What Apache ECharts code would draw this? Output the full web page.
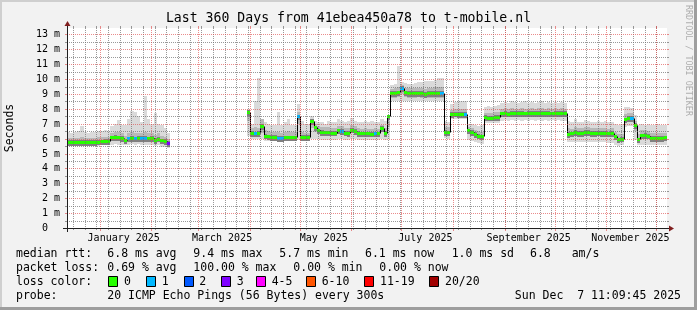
<!DOCTYPE html>
<html><head><meta charset="utf-8">
<script src="https://cdn.jsdelivr.net/npm/echarts@6/dist/echarts.min.js"></script>
<style>html,body{margin:0;padding:0;background:#f2f2f2}#c{width:697px;height:310px}</style>
</head><body><div id="c"></div>
<script>
// ---------- data ----------
const TITLE = 'Last 360 Days from 41ebea450a78 to t-mobile.nl';
const DAYS = 360;            // x range in days since start of graph
const STEP_DAYS = 2;         // one sample = 2 days
const Y_MAX = 13.43;         // ms
const yTickValues = [0,1,2,3,4,5,6,7,8,9,10,11,12,13];
const yTickLabels = ['0  ',' 1 m',' 2 m',' 3 m',' 4 m',' 5 m',' 6 m',' 7 m',' 8 m',' 9 m','10 m','11 m','12 m','13 m'];
// month starts (days since graph start, Dec 12 2024 11:09:45)
const monthStartDays = [19.535,50.535,78.535,109.535,139.535,170.535,200.535,231.535,262.535,292.535,323.535,353.535];
const monthLabels = ['January 2025','March 2025','May 2025','July 2025','September 2025','November 2025'];
const monthLabelDays = [34.03,93.03,154.03,215.03,277.03,338.03];
const firstWeekDay = 3.535, weekDays = 7;

// segment 1 starts at sample 0, segment 2 at sample 54
const seg1Start = 0, seg2Start = 54;
const med1 = [5.78,5.78,5.78,5.77,5.78,5.78,5.78,5.77,5.78,5.80, 5.82,5.84,5.85,6.08,6.10,6.08,6.05,5.88,6.02,6.04, 6.02,6.03,6.04,6.03,6.02,6.03,5.90,6.00,5.88,5.84, 5.71];
const loss1 = [0,0,0,0,0,0,0,0,0,0, 0,0,0,0,0,0,0,0,1,0, 1,0,1,1,0,0,0,0,0,0, 3];
const lo1 = [5.50,5.52,5.50,5.50,5.52,5.50,5.50,5.52,5.50,5.52, 5.55,5.55,5.55,5.60,5.62,5.60,5.58,5.55,5.60,5.62, 5.60,5.62,5.60,5.60,5.58,5.60,5.50,5.55,5.45,5.45, 5.40];
const q1_1 = [5.55,5.56,5.55,5.55,5.56,5.55,5.55,5.56,5.55,5.57, 5.60,5.62,5.62,5.82,5.84,5.82,5.80,5.65,5.78,5.80, 5.78,5.78,5.80,5.78,5.76,5.78,5.66,5.75,5.62,5.58, 5.48];
const q3_1 = [6.05,6.05,6.06,6.05,6.12,6.05,6.05,6.05,6.06,6.08, 6.10,6.12,6.14,6.40,6.45,6.45,6.38,6.20,6.38,6.45, 6.40,6.38,6.36,6.45,6.38,6.36,6.25,6.35,6.20,6.12, 5.95];
const hi1 = [6.45,6.40,6.45,6.50,6.85,6.45,6.40,6.45,6.45,6.50, 6.50,6.55,6.50,6.85,7.00,7.25,6.90,6.90,7.30,7.85, 7.80,7.50,7.10,8.85,7.30,7.00,7.70,7.00,6.95,6.70, 6.40];

const med2 = [7.80,6.38,6.35,6.38,6.85,6.20,
 6.15,6.12,6.10,6.05,6.05,6.08,6.08,6.08,6.08,7.50,
 6.10,6.10,6.10,7.20,6.75,6.55,6.45,6.42,6.42,6.40,
 6.40,6.55,6.50,6.40,6.38,6.60,6.50,6.38,6.35,6.35,
 6.35,6.33,6.35,6.35,6.70,6.38,7.50,9.05,9.05,9.10,
 9.40,9.10,9.05,9.05,9.05,9.08,9.05,8.98,9.05,9.05,
 9.05,9.05,9.05,6.45,6.42,7.65,7.68,7.67,7.67,7.65,
 6.55,6.45,6.30,6.20,6.15,7.45,7.42,7.42,7.45,7.45,
 7.70,7.72,7.68,7.72,7.72,7.72,7.72,7.70,7.72,7.72,
 7.72,7.72,7.72,7.72,7.72,7.70,7.72,7.72,7.72,7.72,
 6.30,6.35,6.45,6.38,6.38,6.45,6.45,6.38,6.38,6.40,
 6.38,6.38,6.35,6.38,6.15,5.95,6.00,7.30,7.38,7.40,
 6.90,5.95,6.22,6.25,6.20,6.05,6.05,6.05,6.05,6.08];
const loss2 = [0,0,1,0,0,0,
 0,0,0,1,1,0,0,0,0,1,
 0,0,0,0,0,0,0,0,0,0,
 0,0,1,0,0,0,0,0,0,0,
 0,0,1,0,0,0,0,0,0,0,
 1,0,0,0,0,0,0,0,0,0,
 0,0,1,0,0,0,0,0,0,1,
 0,0,0,0,0,0,0,0,0,0,
 0,0,0,0,0,0,0,0,0,0,
 0,0,0,0,0,0,0,0,0,0,
 0,0,0,0,0,0,0,0,0,0,
 0,0,0,0,0,0,0,0,0,1,
 0,0,0,0,0,0,0,0,0,0];
const lo2 = [6.20,5.95,5.95,5.95,5.95,5.85,
 5.85,5.82,5.82,5.80,5.80,5.82,5.85,5.82,5.85,5.90,
 5.90,5.88,5.88,6.00,6.00,5.95,5.92,5.90,5.90,5.90,
 5.92,5.95,5.95,5.92,5.90,5.95,5.95,5.92,5.90,5.90,
 5.90,5.88,5.90,5.90,5.95,5.90,6.00,8.55,8.55,8.55,
 8.55,8.55,8.52,8.55,8.55,8.55,8.52,8.50,8.55,8.55,
 8.55,8.55,8.50,6.05,6.00,7.30,7.30,7.30,7.32,7.30,
 5.90,5.85,5.75,5.70,5.65,7.05,7.05,7.05,7.05,7.05,
 7.20,7.22,7.20,7.22,7.20,7.22,7.20,7.22,7.20,7.22,
 7.20,7.22,7.20,7.22,7.20,7.22,7.20,7.22,7.20,7.20,
 5.80,5.75,5.80,5.78,5.75,5.80,5.78,5.75,5.78,5.75,
 5.78,5.75,5.72,5.72,5.60,5.50,5.55,6.80,6.85,6.85,
 5.90,5.55,5.60,5.60,5.58,5.55,5.55,5.58,5.55,5.55];
const q1_2 = [7.20,6.12,6.10,6.12,6.40,5.96,
 5.92,5.90,5.88,5.84,5.84,5.86,5.86,5.86,5.86,7.00,
 5.90,5.88,5.88,6.70,6.45,6.30,6.20,6.18,6.18,6.16,
 6.16,6.30,6.26,6.16,6.14,6.35,6.26,6.14,6.12,6.12,
 6.12,6.10,6.12,6.12,6.45,6.14,6.80,8.75,8.75,8.80,
 9.00,8.80,8.75,8.75,8.75,8.78,8.75,8.70,8.75,8.75,
 8.75,8.75,8.75,6.20,6.18,7.42,7.44,7.44,7.44,7.42,
 6.30,6.20,6.05,5.95,5.90,7.22,7.20,7.20,7.22,7.22,
 7.46,7.48,7.45,7.48,7.48,7.48,7.48,7.46,7.48,7.48,
 7.48,7.48,7.48,7.48,7.48,7.46,7.48,7.48,7.48,7.48,
 6.05,6.10,6.20,6.14,6.14,6.20,6.20,6.14,6.14,6.16,
 6.14,6.14,6.10,6.14,5.90,5.72,5.76,7.05,7.12,7.14,
 6.50,5.72,5.98,6.00,5.96,5.82,5.82,5.82,5.82,5.84];
const q3_2 = [7.95,6.70,6.75,6.70,7.30,6.55,
 6.50,6.45,6.42,6.45,6.40,6.45,6.48,6.42,6.42,7.80,
 6.45,6.40,6.40,7.35,7.00,6.85,6.78,6.75,6.78,6.72,
 6.72,6.85,6.82,6.72,6.70,6.92,6.82,6.70,6.68,6.70,
 6.68,6.66,6.70,6.68,6.95,6.72,7.20,9.35,9.38,9.45,
 9.60,9.42,9.38,9.38,9.40,9.42,9.40,9.35,9.42,9.42,
 9.45,9.48,9.45,6.80,6.78,7.95,8.00,8.00,8.00,7.98,
 6.75,6.70,6.58,6.48,6.45,7.75,7.72,7.72,7.78,7.78,
 8.00,8.05,8.00,8.05,8.02,8.00,8.05,8.02,8.00,8.05,
 8.02,8.05,8.05,8.00,8.05,8.00,8.05,8.02,8.05,8.00,
 6.70,6.68,6.78,6.70,6.70,6.78,6.75,6.70,6.70,6.72,
 6.70,6.72,6.68,6.70,6.45,6.30,6.32,7.65,7.70,7.72,
 7.20,6.30,6.55,6.58,6.52,6.38,6.38,6.40,6.38,6.40];
const hi2 = [8.00,7.00,8.50,10.10,7.30,7.10,
 7.00,6.90,6.90,7.80,6.90,7.10,7.30,6.90,6.95,8.30,
 7.20,7.00,7.00,7.50,7.20,7.15,7.10,7.00,7.20,7.10,
 7.15,7.30,7.20,7.10,7.20,7.40,7.20,7.10,7.15,7.20,
 7.10,7.20,7.15,7.10,7.30,7.20,7.60,9.60,9.65,10.85,
 9.80,9.75,9.70,9.70,9.75,9.80,9.80,9.85,9.90,9.90,
 9.95,10.10,10.05,7.20,7.15,8.30,8.45,8.50,8.50,8.50,
 7.00,7.00,6.90,6.85,6.90,8.15,8.20,8.15,8.20,8.25,
 8.40,8.45,8.40,8.50,8.45,8.40,8.45,8.50,8.40,8.45,
 8.40,8.45,8.50,8.40,8.45,8.40,8.45,8.40,8.45,8.40,
 7.20,7.15,7.30,7.10,7.15,7.25,7.20,7.10,7.15,7.20,
 7.15,7.20,7.10,7.15,7.00,6.95,7.00,8.10,8.15,8.05,
 7.60,6.90,7.00,6.95,7.00,6.90,6.95,7.00,6.90,6.95];

const lossColors = ['#26ff00','#00b8ff','#0059ff','#7e00ff','#ff00ff','#ff5500','#ff0000','#a10000'];
const lossLabels = ['0','1','2','3','4-5','6-10','11-19','20/20'];

// ---------- build rows ----------
function rows(start, med, loss, lo, q1, q3, hi) {
  return med.map((m, k) => [(start + k) * STEP_DAYS, (start + k + 1) * STEP_DAYS,
    lo[k], q1[k], q3[k], hi[k], m, loss[k], k > 0 ? 1 : 0, k > 0 ? med[k - 1] : m]);
}
const data = rows(seg1Start, med1, loss1, lo1, q1_1, q3_1, hi1)
  .concat(rows(seg2Start, med2, loss2, lo2, q1_2, q3_2, hi2));

const MONO = '"DejaVu Sans Mono", monospace';
const GRID = 'rgba(110,110,110,0.7)';
const MGRID = 'rgba(222,79,79,0.65)';

function px(api, d) { return Math.round(api.coord([d, 0])[0]); }
function py(api, v) { return Math.round(api.coord([0, v])[1]); }

function smokeItem(params, api) {
  const xa = px(api, api.value(0)), xb = px(api, api.value(1));
  const m = api.value(6);
  const band = (a, b, fill) => {
    const y1 = py(api, b), y2 = py(api, a);
    return { type: 'rect', shape: { x: xa, y: y1, width: xb - xa, height: Math.max(1, y2 - y1) }, style: { fill } };
  };
  return { type: 'group', children: [
    band(api.value(2), api.value(5), '#dadada'),
    band(api.value(3), api.value(4), '#b8b8b8'),
    band(m - 0.25, m + 0.12, '#808080')
  ] };
}
function blackItem(params, api) {
  if (!api.value(8)) return null;
  const xa = px(api, api.value(0));
  const y = py(api, api.value(6));
  const yp = py(api, api.value(9));
  return { type: 'line', shape: { x1: xa + 0.5, y1: yp + 0.5, x2: xa + 0.5, y2: y + 0.5 }, style: { stroke: '#000', lineWidth: 1 } };
}
function colorItem(params, api) {
  const xa = px(api, api.value(0)), xb = px(api, api.value(1));
  const y = py(api, api.value(6));
  return { type: 'rect', shape: { x: xa, y: y - 1, width: xb - xa, height: 3 }, style: { fill: lossColors[api.value(7)] } };
}
function frameItem(params, api) {
  const c = [];
  const X0 = px(api, 0), X1 = px(api, DAYS), Y0 = py(api, 0), Y1 = py(api, Y_MAX);
  const ln = (x1, y1, x2, y2, stroke, dash) => ({ type: 'line', shape: { x1, y1, x2, y2 }, style: { stroke, lineWidth: 1, lineDash: dash || null } });
  // vertical grid (weeks, months)
  for (let d = firstWeekDay; d < DAYS; d += weekDays) {
    const x = px(api, d) + 0.5;
    c.push(ln(x, Y1 - 2, x, Y1, GRID), ln(x, Y1, x, Y0, GRID, [1, 1]), ln(x, Y0, x, Y0 + 2, GRID));
  }
  // horizontal grid
  for (let k = 0; k < yTickValues.length; k++) {
    const v = yTickValues[k];
    if (v + 0.5 < Y_MAX) {
      const ym = py(api, v + 0.5) + 0.5;
      c.push(ln(X0 - 2, ym, X0, ym, GRID), ln(X0, ym, X1, ym, GRID, [1, 1]), ln(X1, ym, X1 + 2, ym, GRID));
    }
    const y = py(api, v) + 0.5;
    if (v > 0) c.push(ln(X0 - 2, y, X0, y, MGRID), ln(X0, y, X1, y, MGRID, [1, 1]), ln(X1, y, X1 + 2, y, MGRID));
    c.push({ type: 'text', x: X0 - 7, y: y, style: { text: yTickLabels[k], font: '10px ' + MONO, fill: '#000', align: 'right', verticalAlign: 'middle', textAlign: 'right', textVerticalAlign: 'middle' } });
  }
  for (const d of monthStartDays) {
    const x = px(api, d) + 0.5;
    c.push(ln(x, Y1 - 2, x, Y1, MGRID), ln(x, Y1, x, Y0, MGRID, [1, 1]), ln(x, Y0, x, Y0 + 3, MGRID));
  }
  monthLabels.forEach((t, k) => {
    c.push({ type: 'text', x: api.coord([monthLabelDays[k], 0])[0], y: Y0 + 10, style: { text: t, font: '10px ' + MONO, fill: '#000', align: 'center', verticalAlign: 'middle', textAlign: 'center', textVerticalAlign: 'middle' } });
  });
  // axes
  c.push(ln(X0 - 4, Y0 + 0.5, X1 + 4, Y0 + 0.5, '#1f1f1f'));
  c.push(ln(X0 + 0.5, Y0 + 4, X0 + 0.5, Y1 - 4, '#1f1f1f'));
  c.push({ type: 'polygon', shape: { points: [[X1 + 2, Y0 - 2.5], [X1 + 2, Y0 + 3.5], [X1 + 7, Y0 + 0.5]] }, style: { fill: '#801f1f' } });
  c.push({ type: 'polygon', shape: { points: [[X0 - 2.5, Y1 - 2], [X0 + 3.5, Y1 - 2], [X0 + 0.5, Y1 - 7]] }, style: { fill: '#801f1f' } });
  return { type: 'group', children: c };
}

// ---------- legend / texts ----------
const F = '11.5px ' + MONO;
function txt(x, y, s, opts) {
  return Object.assign({ type: 'text', x, y, silent: true, style: { text: s, font: F, fill: '#000', align: 'left', verticalAlign: 'middle', textAlign: 'left', textVerticalAlign: 'middle' } }, opts || {});
}
const legendRows = [
  [254.3, [[16, 'median rtt:'], [107.3, '6.8 ms avg'], [193.3, '9.4 ms max'], [279.3, '5.7 ms min'], [365, '6.1 ms now'], [451.7, '1.0 ms sd'], [530, '6.8'], [571.7, 'am/s']]],
  [268.3, [[16, 'packet loss:'], [107.3, '0.69 % avg'], [193.3, '100.00 % max'], [293.3, '0.00 % min'], [379.3, '0.00 % now']]],
  [282.3, [[16, 'loss color:']]],
  [296, [[16, 'probe:'], [107.3, '20 ICMP Echo Pings (56 Bytes) every 300s']]]
];
const lossTextX = [124, 161.7, 199.3, 236.7, 271.7, 321.7, 380, 445];
const graphic = [
  { type: 'rect', shape: { x: 0, y: 0, width: 697, height: 310 }, style: { fill: '#f2f2f2' }, z: -10, silent: true },
  { type: 'rect', shape: { x: 0, y: 0, width: 697, height: 2 }, style: { fill: '#cfcfcf' }, silent: true },
  { type: 'rect', shape: { x: 0, y: 0, width: 2, height: 310 }, style: { fill: '#cfcfcf' }, silent: true },
  { type: 'rect', shape: { x: 0, y: 307, width: 697, height: 3 }, style: { fill: '#9e9e9e' }, silent: true },
  { type: 'rect', shape: { x: 694, y: 0, width: 3, height: 310 }, style: { fill: '#9e9e9e' }, silent: true },
  txt(348.5, 18.5, TITLE, { style: { text: TITLE, font: '13.2px ' + MONO, fill: '#000', align: 'center', verticalAlign: 'middle', textAlign: 'center', textVerticalAlign: 'middle' } }),
  txt(10, 128, 'Seconds', { rotation: Math.PI / 2, style: { text: 'Seconds', font: F, fill: '#000', align: 'center', verticalAlign: 'middle', textAlign: 'center', textVerticalAlign: 'middle' } }),
  txt(688.5, 5, 'RRDTOOL / TOBI OETIKER', { rotation: -Math.PI / 2, style: { text: 'RRDTOOL / TOBI OETIKER', font: '8.4px ' + MONO, fill: 'rgba(0,0,0,0.3)', align: 'left', verticalAlign: 'middle', textAlign: 'left', textVerticalAlign: 'middle' } }),
  txt(681, 296, 'Sun Dec  7 11:09:45 2025', { style: { text: 'Sun Dec  7 11:09:45 2025', font: F, fill: '#000', align: 'right', verticalAlign: 'middle', textAlign: 'right', textVerticalAlign: 'middle' } })
];
legendRows.forEach(([y, items]) => items.forEach(([x, s]) => graphic.push(txt(x, y, s))));
lossLabels.forEach((s, k) => {
  const bx = Math.round(lossTextX[k] - 15.7) + 0.5;
  graphic.push({ type: 'rect', silent: true, shape: { x: bx, y: 276.5, width: 9, height: 10 }, style: { fill: lossColors[k], stroke: '#000', lineWidth: 1 } });
  graphic.push(txt(lossTextX[k], 282.3, s));
});

const chart = echarts.init(document.getElementById('c'), null, { renderer: 'canvas', width: 697, height: 310 });
chart.setOption({
  animation: false,
  backgroundColor: '#f2f2f2',
  grid: { left: 67, top: 28, width: 600, height: 200, show: true, backgroundColor: '#ffffff', borderWidth: 0 },
  xAxis: { type: 'value', min: 0, max: DAYS, show: false },
  yAxis: { type: 'value', min: 0, max: Y_MAX, show: false },
  series: [
    { type: 'custom', name: 'smoke', data: data, renderItem: smokeItem, z: 2, silent: true, clip: false },
    { type: 'custom', name: 'median', data: data, renderItem: blackItem, z: 3, silent: true, clip: false },
    { type: 'custom', name: 'loss', data: data, renderItem: colorItem, z: 4, silent: true, clip: false },
    { type: 'custom', name: 'frame', data: [[0, 0]], renderItem: frameItem, z: 5, silent: true, clip: false }
  ],
  graphic: graphic
});
</script>
</body></html>
